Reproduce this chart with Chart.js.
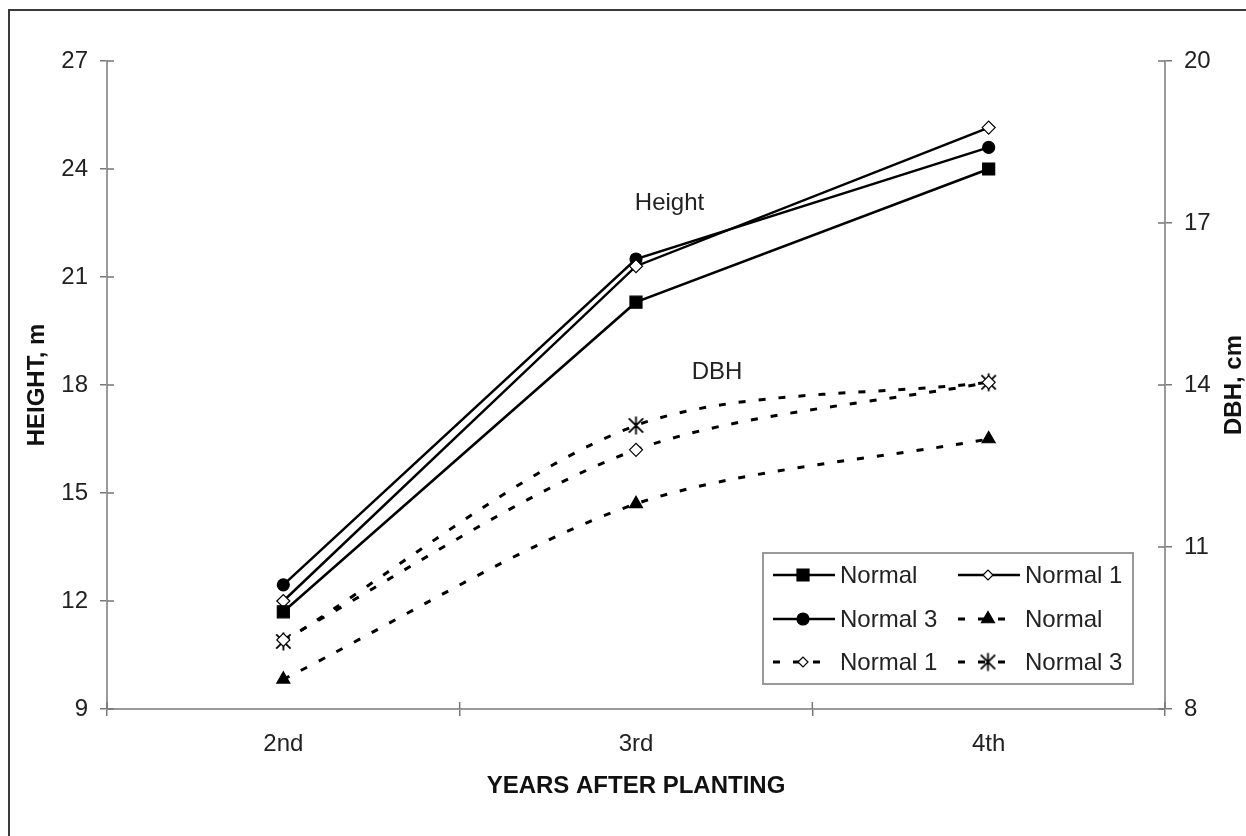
<!DOCTYPE html>
<html>
<head>
<meta charset="utf-8">
<title>Height and DBH</title>
<script src="https://cdn.jsdelivr.net/npm/chart.js@4.4.1/dist/chart.umd.min.js"></script>
<style>
  html, body { margin: 0; padding: 0; background: #fff; overflow: hidden; }
  #frame { position: absolute; left: 8px; top: 9px; width: 1400px; height: 1000px;
           border-left: 2px solid #3a3a3a; border-top: 2px solid #3a3a3a; }
  #wrap { position: absolute; left: 0; top: 0; width: 1246px; height: 836px; }
</style>
</head>
<body>
<div id="frame"></div>
<div id="wrap"><canvas id="chart"></canvas></div>
<script>
const years = ['2nd', '3rd', '4th']

// height, m (left axis)
const heightNormal = [11.7, 20.3, 24.0]
const heightNormal1 = [12.0, 21.3, 25.15]
const heightNormal3 = [12.45, 21.5, 24.6]

// DBH, cm (right axis)
const dbhNormal = [8.55, 11.8, 13.0]
const dbhNormal1 = [9.28, 12.8, 14.05]
const dbhNormal3 = [9.25, 13.25, 14.05]

const seriesLabels = ['Normal', 'Normal 1', 'Normal 3', 'Normal', 'Normal 1', 'Normal 3']

const heightTicks = { min: 9, max: 27, step: 3 }
const dbhTicks = { min: 8, max: 20, step: 3 }

// text notes placed in data units: [text, x (category index), y value, axis]
const notes = [
  ['Height', 1.095, 23.05, 'y'],
  ['DBH', 1.23, 14.24, 'y1'],
]

const FONT = '"Liberation Sans", Arial, sans-serif'
const INK = '#222'
const AXIS = '#9a9a9a'

// Excel-like asterisk marker: an X with a vertical bar
function makeStar(size) {
  const c = document.createElement('canvas')
  c.width = size
  c.height = size
  const g = c.getContext('2d')
  const m = size / 2, r = size / 2 - 1.5
  g.strokeStyle = '#000'
  g.lineWidth = 1.8
  g.beginPath()
  g.moveTo(m, m - r); g.lineTo(m, m + r)
  const d = r * 0.8
  g.moveTo(m - d, m - d); g.lineTo(m + d, m + d)
  g.moveTo(m + d, m - d); g.lineTo(m - d, m + d)
  g.stroke()
  return c
}
const starMark = makeStar(21)

function solid(label, data, style, radius, fill) {
  return {
    label, data, yAxisID: 'y',
    borderColor: '#000', borderWidth: 2.5, tension: 0,
    pointStyle: style, pointRadius: radius, pointHoverRadius: radius,
    pointBackgroundColor: fill, pointBorderColor: '#000', pointBorderWidth: 1.2,
  }
}
function dashed(label, data, style, radius, fill) {
  return {
    label, data, yAxisID: 'y1',
    borderColor: '#000', borderWidth: 3, borderDash: [7, 13], tension: 0.3,
    pointStyle: style, pointRadius: radius, pointHoverRadius: radius,
    pointBackgroundColor: fill, pointBorderColor: '#000', pointBorderWidth: 1.2,
  }
}

const datasets = [
  solid(seriesLabels[0], heightNormal, 'rect', 8.5, '#000'),
  solid(seriesLabels[1], heightNormal1, 'rectRot', 6.5, '#fff'),
  solid(seriesLabels[2], heightNormal3, 'circle', 6, '#000'),
  dashed(seriesLabels[3], dbhNormal, 'triangle', 7.5, '#000'),
  dashed(seriesLabels[4], dbhNormal1, 'rectRot', 6.5, '#fff'),
  dashed(seriesLabels[5], dbhNormal3, starMark, 9, '#000'),
]

function markPoint(ctx, ds, x, y) {
  ctx.save()
  ctx.fillStyle = ds.pointBackgroundColor
  ctx.strokeStyle = ds.pointBorderColor
  ctx.lineWidth = ds.pointBorderWidth
  Chart.helpers.drawPoint(ctx, {
    pointStyle: ds.pointStyle, rotation: 0,
    radius: ds.pointRadius, borderWidth: ds.pointBorderWidth
  }, x, y)
  ctx.restore()
}

// tick marks that cross the axis lines, like the original
const crossTicks = {
  id: 'crossTicks',
  afterDraw(chart) {
    const ctx = chart.ctx
    const { x, y, y1 } = chart.scales
    ctx.save()
    ctx.strokeStyle = '#777'
    ctx.lineWidth = 1.5
    ctx.beginPath()
    for (let i = 0; i <= years.length; i++) {
      const px = x.getPixelForValue(i - 0.5)
      ctx.moveTo(px, x.top)
      ctx.lineTo(px, x.top - 7)
    }
    y.ticks.forEach((t, i) => {
      const py = y.getPixelForTick(i)
      ctx.moveTo(y.right, py)
      ctx.lineTo(y.right + 7, py)
    })
    y1.ticks.forEach((t, i) => {
      const py = y1.getPixelForTick(i)
      ctx.moveTo(y1.left, py)
      ctx.lineTo(y1.left - 7, py)
    })
    ctx.stroke()
    ctx.restore()
  }
}

// notes, right axis title and the boxed legend
const extras = {
  id: 'extras',
  afterDraw(chart) {
    const ctx = chart.ctx
    const ca = chart.chartArea
    const sx = chart.scales.x

    ctx.save()
    ctx.fillStyle = INK
    ctx.font = '24px ' + FONT
    ctx.textAlign = 'center'
    ctx.textBaseline = 'middle'
    notes.forEach(([text, xv, yv, axis]) => {
      ctx.fillText(text, sx.getPixelForValue(xv), chart.scales[axis].getPixelForValue(yv))
    })

    // right title reads bottom to top
    ctx.save()
    ctx.translate(1234, (ca.top + ca.bottom) / 2)
    ctx.rotate(-Math.PI / 2)
    ctx.font = 'bold 24px ' + FONT
    ctx.fillStyle = '#111'
    ctx.fillText('DBH, cm', 0, 0)
    ctx.restore()

    // legend box
    const bx = ca.left + 656, by = ca.top + 492, bw = 370, bh = 131
    ctx.fillStyle = '#fff'
    ctx.fillRect(bx, by, bw, bh)
    ctx.strokeStyle = '#999'
    ctx.lineWidth = 2
    ctx.strokeRect(bx, by, bw, bh)

    const rowY = [22, 66, 109]
    const colX = [10, 195]
    ctx.textAlign = 'left'
    ctx.font = '24px ' + FONT
    chart.data.datasets.forEach((ds, i) => {
      const lx = bx + colX[i % 2]
      const ly = by + rowY[Math.floor(i / 2)]
      const len = ds.borderDash ? 50 : 62
      ctx.save()
      ctx.strokeStyle = '#000'
      ctx.lineWidth = ds.borderWidth
      ctx.setLineDash(ds.borderDash || [])
      ctx.beginPath()
      ctx.moveTo(lx, ly)
      ctx.lineTo(lx + len, ly)
      ctx.stroke()
      ctx.restore()
      markPoint(ctx, Object.assign({}, ds, {
        pointRadius: ds.pointStyle === 'rectRot' ? 5 : ds.pointRadius
      }), lx + 30, ly)
      ctx.fillStyle = INK
      ctx.fillText(ds.label, lx + 67, ly + 1)
    })
    ctx.restore()
  }
}

new Chart(document.getElementById('chart'), {
  type: 'line',
  data: { labels: years, datasets },
  options: {
    responsive: true,
    maintainAspectRatio: false,
    animation: false,
    layout: { padding: { top: 61, left: 0, right: 0, bottom: 0 } },
    plugins: {
      legend: { display: false },
      tooltip: { enabled: false },
    },
    scales: {
      x: {
        type: 'category',
        offset: true,
        grid: { drawOnChartArea: false, offset: true, tickLength: 7, color: '#777', lineWidth: 1.5 },
        border: { color: AXIS, width: 2 },
        ticks: { font: { size: 24, family: FONT }, color: INK, padding: 14, maxRotation: 0 },
        title: {
          display: true, text: 'YEARS AFTER PLANTING', color: '#111',
          font: { size: 24, weight: 'bold', family: FONT, lineHeight: 1 },
          padding: { top: 0, bottom: 38 }
        },
        afterFit(s) { s.height = 127 }
      },
      y: {
        position: 'left',
        min: heightTicks.min, max: heightTicks.max,
        grid: { drawOnChartArea: false, tickLength: 7, color: '#777', lineWidth: 1.5 },
        border: { color: AXIS, width: 2 },
        ticks: { stepSize: heightTicks.step, font: { size: 24, family: FONT }, color: INK, padding: 12 },
        title: {
          display: true, text: 'HEIGHT, m', color: '#111',
          font: { size: 24, weight: 'bold', family: FONT, lineHeight: 1 },
          padding: { top: 25, bottom: 0 }
        },
        afterFit(s) { s.width = 107 }
      },
      y1: {
        position: 'right',
        min: dbhTicks.min, max: dbhTicks.max,
        grid: { drawOnChartArea: false, tickLength: 7, color: '#777', lineWidth: 1.5 },
        border: { color: AXIS, width: 2 },
        ticks: { stepSize: dbhTicks.step, font: { size: 24, family: FONT }, color: INK, padding: 12 },
        afterFit(s) { s.width = 81 }
      }
    }
  },
  plugins: [crossTicks, extras]
})
</script>
</body>
</html>
